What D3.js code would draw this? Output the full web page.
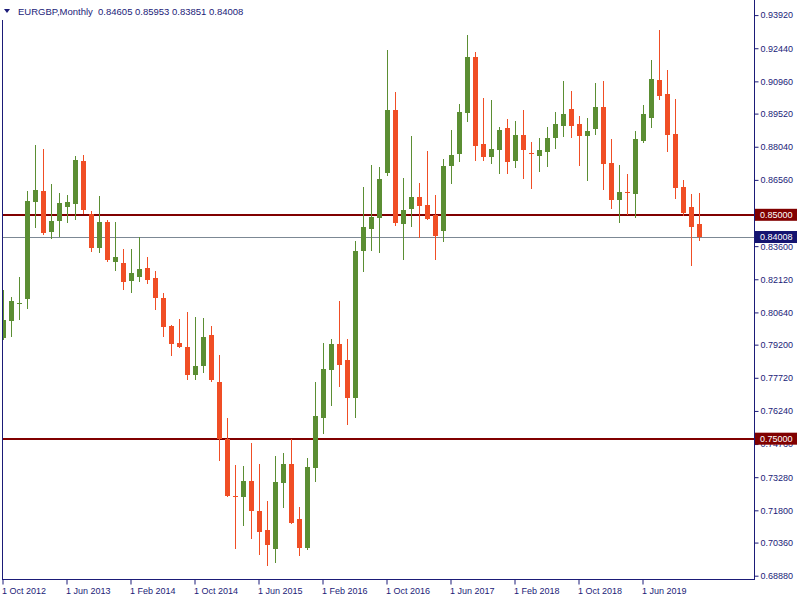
<!DOCTYPE html>
<html>
<head>
<meta charset="utf-8">
<script src="https://cdn.jsdelivr.net/npm/d3@7"></script>
<style>
  html, body { margin: 0; padding: 0; background: #ffffff; }
  svg { display: block; }
  text { font-family: "Liberation Sans", Arial, sans-serif; }
</style>
</head>
<body>
<svg id="chart" width="800" height="600"></svg>
<script>
// ---------- data ----------
const symbol = "EURGBP,Monthly";
const months = [
  "2012-10","2012-11","2012-12",
  "2013-01","2013-02","2013-03","2013-04","2013-05","2013-06","2013-07","2013-08","2013-09","2013-10","2013-11","2013-12",
  "2014-01","2014-02","2014-03","2014-04","2014-05","2014-06","2014-07","2014-08","2014-09","2014-10","2014-11","2014-12",
  "2015-01","2015-02","2015-03","2015-04","2015-05","2015-06","2015-07","2015-08","2015-09","2015-10","2015-11","2015-12",
  "2016-01","2016-02","2016-03","2016-04","2016-05","2016-06","2016-07","2016-08","2016-09","2016-10","2016-11","2016-12",
  "2017-01","2017-02","2017-03","2017-04","2017-05","2017-06","2017-07","2017-08","2017-09","2017-10","2017-11","2017-12",
  "2018-01","2018-02","2018-03","2018-04","2018-05","2018-06","2018-07","2018-08","2018-09","2018-10","2018-11","2018-12",
  "2019-01","2019-02","2019-03","2019-04","2019-05","2019-06","2019-07","2019-08","2019-09","2019-10","2019-11","2019-12",
  "2020-01"
];
const openP = [
  0.7951,0.8026,0.8104,
  0.8124,0.8559,0.8606,0.8425,0.8474,0.8536,0.8550,0.8740,0.8504,0.8353,0.8468,0.8289,
  0.8285,0.8204,0.8222,0.8262,0.8218,0.8128,0.8003,0.7927,0.7910,0.7785,0.7825,0.7963,
  0.7753,0.7497,0.7245,0.7241,0.7311,0.7178,0.7092,0.7009,0.7302,0.7387,0.7141,0.7013,
  0.7370,0.7592,0.7807,0.7923,0.7852,0.7682,0.8340,0.8437,0.8486,0.8687,0.8968,0.8460,
  0.8527,0.8580,0.8544,0.8499,0.8428,0.8718,0.8773,0.8956,0.9205,0.8816,0.8758,0.8789,
  0.8888,0.8740,0.8856,0.8775,0.8763,0.8780,0.8843,0.8897,0.8973,0.8906,0.8852,0.8883,
  0.8981,0.8731,0.8566,0.8604,0.8593,0.8830,0.8932,0.9102,0.9040,0.8861,0.8624,0.8535,
  0.84605
];
const highP = [
  0.8164,0.8133,0.8224,
  0.8606,0.8812,0.8794,0.8638,0.8597,0.8588,0.8763,0.8767,0.8517,0.8584,0.8477,0.8468,
  0.8347,0.8347,0.8400,0.8312,0.8249,0.8151,0.8008,0.8035,0.8066,0.8044,0.8039,0.8003,
  0.7874,0.7592,0.7383,0.7378,0.7481,0.7388,0.7222,0.7423,0.7436,0.7499,0.7195,0.7414,
  0.7753,0.7927,0.7945,0.8115,0.7945,0.8383,0.8624,0.8722,0.8714,0.9236,0.9048,0.8664,
  0.8852,0.8642,0.8785,0.8588,0.8749,0.8879,0.8995,0.9303,0.9227,0.9023,0.9013,0.8892,
  0.8928,0.8919,0.8968,0.8825,0.8843,0.8892,0.8959,0.9098,0.9053,0.8941,0.8932,0.9089,
  0.9098,0.8839,0.8722,0.8682,0.8874,0.8990,0.9191,0.9325,0.9147,0.9017,0.8655,0.8593,
  0.85953
];
const lowP = [
  0.7941,0.7956,0.8030,
  0.8079,0.8442,0.8411,0.8393,0.8400,0.8465,0.8477,0.8504,0.8335,0.8331,0.8291,0.8250,
  0.8165,0.8152,0.8200,0.8191,0.8075,0.7954,0.7869,0.7907,0.7762,0.7762,0.7793,0.7753,
  0.7402,0.7240,0.7009,0.7111,0.7053,0.6982,0.6933,0.6946,0.7192,0.7120,0.6977,0.7004,
  0.7308,0.7521,0.7646,0.7731,0.7561,0.7592,0.8246,0.8340,0.8329,0.8673,0.8451,0.8299,
  0.8447,0.8398,0.8477,0.8299,0.8379,0.8638,0.8736,0.8916,0.8740,0.8740,0.8727,0.8682,
  0.8682,0.8709,0.8660,0.8615,0.8691,0.8714,0.8794,0.8848,0.8843,0.8718,0.8651,0.8856,
  0.8611,0.8526,0.8463,0.8499,0.8486,0.8821,0.8888,0.9013,0.8780,0.8571,0.8495,0.8271,
  0.83851
];
const closeP = [
  0.8030,0.8115,0.8106,
  0.8562,0.8611,0.8420,0.8472,0.8553,0.8557,0.8745,0.8521,0.8353,0.8468,0.8299,0.8312,
  0.8201,0.8240,0.8258,0.8209,0.8128,0.7999,0.7923,0.7910,0.7785,0.7825,0.7954,0.7762,
  0.7497,0.7244,0.7243,0.7311,0.7178,0.7085,0.7027,0.7307,0.7387,0.7125,0.7013,0.7374,
  0.7601,0.7811,0.7923,0.7831,0.7682,0.8338,0.8446,0.8490,0.8660,0.8968,0.8463,0.8521,
  0.8580,0.8541,0.8481,0.8405,0.8718,0.8767,0.8959,0.9205,0.8809,0.8758,0.8794,0.8879,
  0.8736,0.8856,0.8789,0.8772,0.8789,0.8843,0.8906,0.8950,0.8897,0.8852,0.8874,0.8981,
  0.8727,0.8566,0.8602,0.8600,0.8839,0.8950,0.9107,0.9031,0.8856,0.8620,0.8508,0.8446,
  0.84008
];
const priceTicks = [0.93920,0.92440,0.90960,0.89520,0.88040,0.86560,0.85080,0.83600,0.82120,
                    0.80640,0.79200,0.77720,0.76240,0.74760,0.73280,0.71800,0.70360,0.68880];
const dateTickMonths = ["2012-10","2013-06","2014-02","2014-10","2015-06","2016-02","2016-10","2017-06","2018-02","2018-10","2019-06"];
const dateTickLabels = ["1 Oct 2012","1 Jun 2013","1 Feb 2014","1 Oct 2014","1 Jun 2015","1 Feb 2016","1 Oct 2016","1 Jun 2017","1 Feb 2018","1 Oct 2018","1 Jun 2019"];
const levelLines = [0.85000, 0.75000];
const lastPrice = closeP[closeP.length - 1];

// ---------- styles ----------
const AXIS = "#1b1b78";
const UP = "#5b8e33";
const DOWN = "#f04e25";
const LEVEL = "#800000";
const BIDLINE = "#7c8894";
const BIDBOX = "#141470";

const candles = months.map((m, i) => ({ m, o: openP[i], h: highP[i], l: lowP[i], c: closeP[i] }));

const svg = d3.select("#chart");
const plotLeft = 2, plotRight = 754, plotBottom = 579;

const x = d3.scaleBand().domain(months).range([-1, -1 + 8 * months.length]).paddingInner(0);
const y = d3.scaleLinear().domain([0.68880, 0.93920]).range([575.7, 15.1]);
const fmt = d3.format(".5f");

const plot = svg.append("g");
plot.append("clipPath").attr("id", "clip")
  .append("rect").attr("x", plotLeft + 1).attr("y", 0).attr("width", plotRight - plotLeft - 1).attr("height", plotBottom);

const cg = plot.append("g").attr("clip-path", "url(#clip)").attr("shape-rendering", "crispEdges");

// level lines
cg.selectAll("line.level").data(levelLines).join("line")
  .attr("x1", plotLeft).attr("x2", plotRight)
  .attr("y1", d => y(d)).attr("y2", d => y(d))
  .attr("stroke", LEVEL).attr("stroke-width", 2);

// bid line
cg.append("line")
  .attr("x1", plotLeft).attr("x2", plotRight)
  .attr("y1", Math.round(y(lastPrice)) + 0.5).attr("y2", Math.round(y(lastPrice)) + 0.5)
  .attr("stroke", BIDLINE).attr("stroke-width", 1);

// wicks
cg.selectAll("rect.wick").data(candles).join("rect")
  .attr("class", "wick")
  .attr("x", d => x(d.m) + 4)
  .attr("width", 1)
  .attr("y", d => y(d.h))
  .attr("height", d => Math.max(1, y(d.l) - y(d.h)))
  .attr("fill", d => d.c >= d.o ? UP : DOWN);

// bodies
cg.selectAll("rect.body").data(candles).join("rect")
  .attr("class", "body")
  .attr("x", d => x(d.m) + 2)
  .attr("width", 5)
  .attr("y", d => y(Math.max(d.o, d.c)))
  .attr("height", d => Math.max(1, Math.abs(y(d.o) - y(d.c))))
  .attr("fill", d => d.c >= d.o ? UP : DOWN);

// frame
svg.append("line").attr("x1", plotLeft + 0.5).attr("x2", plotLeft + 0.5).attr("y1", 20).attr("y2", plotBottom + 0.5)
  .attr("stroke", AXIS);
svg.append("line").attr("x1", plotRight + 0.5).attr("x2", plotRight + 0.5).attr("y1", 0).attr("y2", plotBottom + 0.5)
  .attr("stroke", AXIS);
svg.append("line").attr("x1", plotLeft).attr("x2", plotRight + 1).attr("y1", plotBottom + 0.5).attr("y2", plotBottom + 0.5)
  .attr("stroke", AXIS);

// right price axis
const yAxis = d3.axisRight(y).tickValues(priceTicks).tickSize(4).tickPadding(2).tickFormat(fmt);
const ya = svg.append("g").attr("transform", `translate(${plotRight + 0.5},0)`).call(yAxis);
ya.select(".domain").remove();
ya.selectAll(".tick line").attr("stroke", AXIS);
ya.selectAll(".tick text").attr("fill", AXIS).attr("font-size", 9).attr("font-family", '"Liberation Sans", Arial, sans-serif');

// bottom date axis
const monthToLabel = new Map(dateTickMonths.map((m, i) => [m, dateTickLabels[i]]));
const xAxis = d3.axisBottom(x).tickValues(dateTickMonths).tickSize(5).tickPadding(3).tickFormat(m => monthToLabel.get(m));
const xa = svg.append("g").attr("transform", `translate(0,${plotBottom + 0.5})`).call(xAxis);
xa.select(".domain").remove();
xa.selectAll(".tick line").attr("stroke", AXIS);
xa.selectAll(".tick text").attr("fill", AXIS).attr("font-size", 9)
  .attr("text-anchor", "start").attr("x", -1)
  .attr("font-family", '"Liberation Sans", Arial, sans-serif');

// price label boxes
const boxes = [
  { v: levelLines[0], bg: LEVEL },
  { v: levelLines[1], bg: LEVEL },
  { v: lastPrice, bg: BIDBOX }
];
const bg = svg.append("g");
boxes.forEach(b => {
  const cy = y(b.v);
  bg.append("rect").attr("x", plotRight + 1).attr("y", cy - 6).attr("width", 42).attr("height", 12).attr("fill", b.bg);
  bg.append("text").attr("x", plotRight + 6).attr("y", cy).attr("dy", "0.35em")
    .attr("fill", "#ffffff").attr("font-size", 9).text(fmt(b.v));
});

// header
svg.append("path").attr("d", "M4,9 L10,9 L7,13 Z").attr("fill", AXIS);
const last = candles[candles.length - 1];
svg.append("text").attr("x", 18).attr("y", 15).attr("fill", AXIS).attr("font-size", 9.5)
  .text(`${symbol}  ${fmt(last.o)} ${fmt(last.h)} ${fmt(last.l)} ${fmt(last.c)}`)
  .attr("xml:space", "preserve").style("white-space", "pre");
</script>
</body>
</html>
